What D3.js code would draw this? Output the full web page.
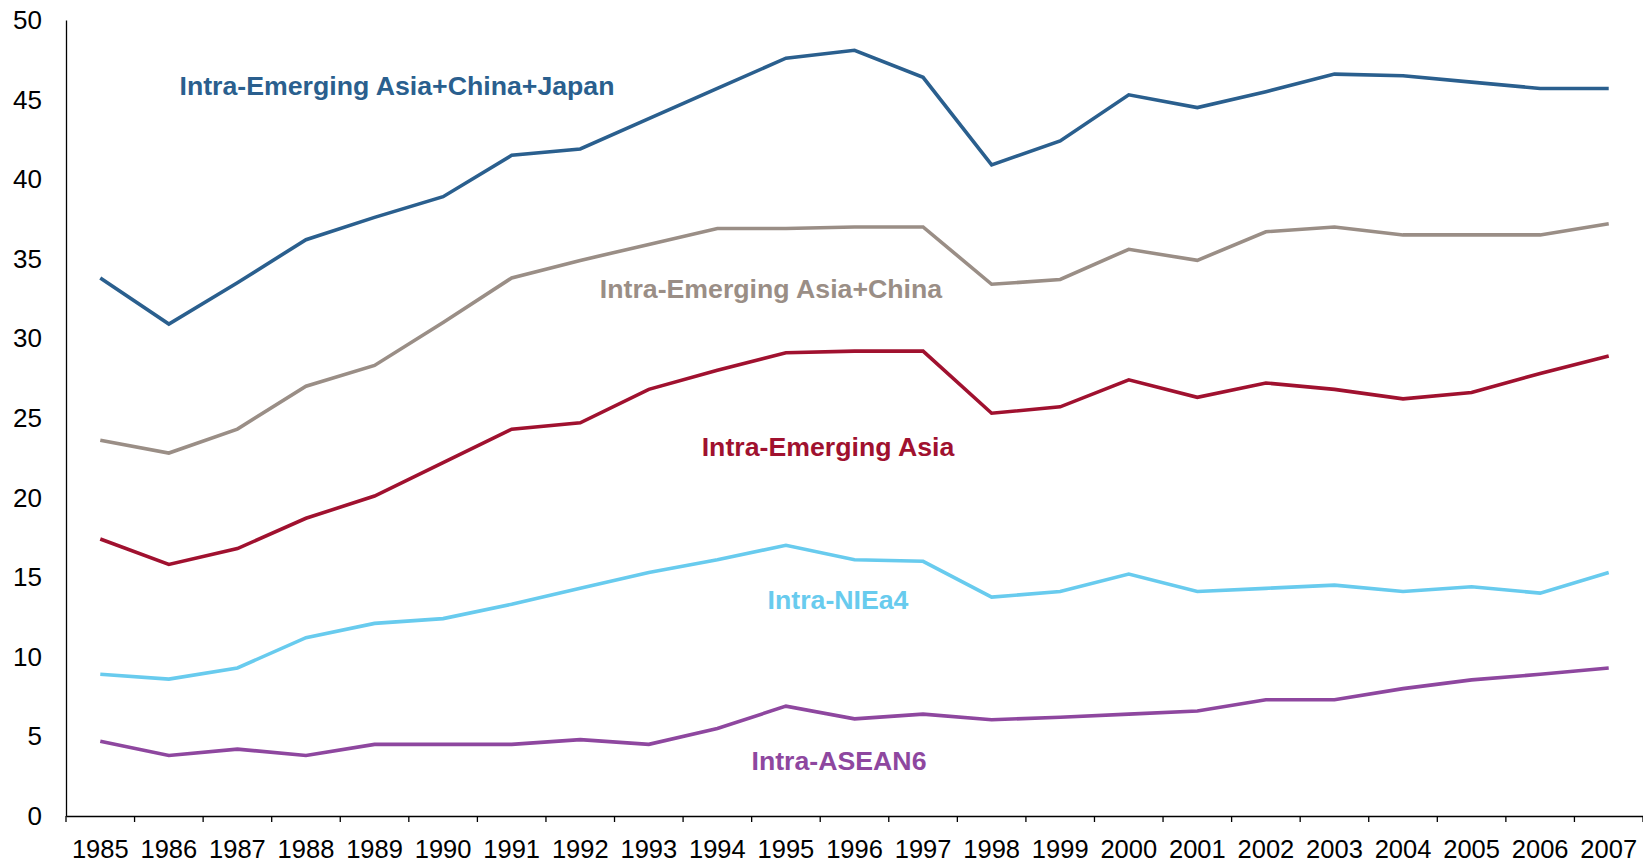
<!DOCTYPE html>
<meta charset="utf-8">
<head>
    <title>Intra-regional trade shares</title>
</head>
<style>
    body { margin: 0; background: #fff; }
    svg { display: block; font-family: "Liberation Sans", Arial, sans-serif; }
</style>
<body>
    <svg></svg>
    <script src="https://cdn.jsdelivr.net/npm/d3@7"></script>
    <script>
        var width = 1643;
        var height = 865;
        var margin = { top: 20, right: 0, bottom: 49, left: 66 };

        // Data
        var years = [1985, 1986, 1987, 1988, 1989, 1990, 1991, 1992, 1993, 1994, 1995, 1996,
                     1997, 1998, 1999, 2000, 2001, 2002, 2003, 2004, 2005, 2006, 2007];
        var asiaChinaJapan = [33.8, 30.9, 33.5, 36.2, 37.6, 38.9, 41.5, 41.9, 43.8, 45.7, 47.6, 48.1,
                              46.4, 40.9, 42.4, 45.3, 44.5, 45.5, 46.6, 46.5, 46.1, 45.7, 45.7];
        var asiaChina = [23.6, 22.8, 24.3, 27.0, 28.3, 31.0, 33.8, 34.9, 35.9, 36.9, 36.9, 37.0,
                         37.0, 33.4, 33.7, 35.6, 34.9, 36.7, 37.0, 36.5, 36.5, 36.5, 37.2];
        var emergingAsia = [17.4, 15.8, 16.8, 18.7, 20.1, 22.2, 24.3, 24.7, 26.8, 28.0, 29.1, 29.2,
                            29.2, 25.3, 25.7, 27.4, 26.3, 27.2, 26.8, 26.2, 26.6, 27.8, 28.9];
        var niea4 = [8.9, 8.6, 9.3, 11.2, 12.1, 12.4, 13.3, 14.3, 15.3, 16.1, 17.0, 16.1,
                     16.0, 13.75, 14.1, 15.2, 14.1, 14.3, 14.5, 14.1, 14.4, 14.0, 15.3];
        var asean6 = [4.7, 3.8, 4.2, 3.8, 4.5, 4.5, 4.5, 4.8, 4.5, 5.5, 6.9, 6.1,
                      6.4, 6.05, 6.2, 6.4, 6.6, 7.3, 7.3, 8.0, 8.55, 8.9, 9.3];
        var yTicks = [0, 5, 10, 15, 20, 25, 30, 35, 40, 45, 50];

        var series = [
            { name: "Intra-Emerging Asia+China+Japan", values: asiaChinaJapan, color: "#2a5f8e", label: [397, 85] },
            { name: "Intra-Emerging Asia+China", values: asiaChina, color: "#9a8e86", label: [771, 288] },
            { name: "Intra-Emerging Asia", values: emergingAsia, color: "#a0112f", label: [828, 446] },
            { name: "Intra-NIEa4", values: niea4, color: "#68cbee", label: [838, 599] },
            { name: "Intra-ASEAN6", values: asean6, color: "#8e479f", label: [839, 760] }
        ];

        var svg = d3.select('svg')
            .attr('width', width)
            .attr('height', height);

        var x = d3.scaleBand()
            .domain(years)
            .range([margin.left, width - margin.right]);

        var y = d3.scaleLinear()
            .domain([0, 50])
            .range([height - margin.bottom, margin.top]);

        // Axes
        var xAxis = svg.append('g')
            .attr('transform', `translate(0, ${height - margin.bottom})`)
            .call(d3.axisBottom(x).tickSize(0).tickPadding(0).tickSizeOuter(0));
        xAxis.select('.domain').attr('stroke', '#000').attr('stroke-width', 1.3);
        xAxis.selectAll('text')
            .attr('font-size', 25.5)
            .attr('fill', '#000')
            .attr('dy', null)
            .attr('y', 42);

        // Tick marks sit between the categories
        var edges = years.map(d => x(d)).concat([x(years[years.length - 1]) + x.bandwidth()]);
        xAxis.selectAll('line.edge')
            .data(edges)
            .enter()
            .append('line')
            .attr('class', 'edge')
            .attr('x1', d => d)
            .attr('x2', d => d)
            .attr('y1', 0)
            .attr('y2', 6)
            .attr('stroke', '#000')
            .attr('stroke-width', 1.3);

        var yAxis = svg.append('g')
            .attr('transform', `translate(${margin.left}, 0)`)
            .call(d3.axisLeft(y).tickValues(yTicks).tickSize(0).tickPadding(24).tickSizeOuter(0));
        yAxis.select('.domain').attr('stroke', '#000').attr('stroke-width', 1.3);
        yAxis.selectAll('text')
            .attr('font-size', 26)
            .attr('fill', '#000')
            .attr('dy', '0.33em');

        // Lines
        var line = d3.line()
            .x((d, i) => x(years[i]) + x.bandwidth() / 2)
            .y(d => y(d));

        svg.append('g')
            .selectAll('path')
            .data(series)
            .enter()
            .append('path')
            .attr('d', s => line(s.values))
            .attr('fill', 'none')
            .attr('stroke', s => s.color)
            .attr('stroke-width', 3.6)
            .attr('stroke-linejoin', 'miter');

        // Series labels
        svg.append('g')
            .selectAll('text')
            .data(series)
            .enter()
            .append('text')
            .attr('x', s => s.label[0])
            .attr('y', s => s.label[1])
            .attr('dy', '0.36em')
            .attr('text-anchor', 'middle')
            .attr('font-size', 26.7)
            .attr('font-weight', 'bold')
            .attr('fill', s => s.color)
            .text(s => s.name);
    </script>
</body>
</html>
